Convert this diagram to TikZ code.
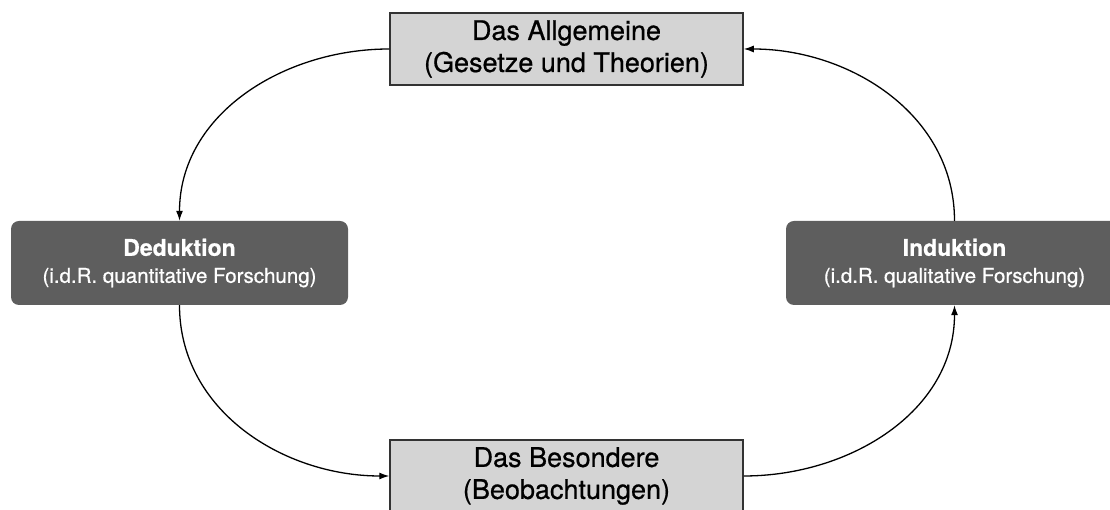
\documentclass[tikz,border=0pt]{standalone}
\usepackage{fontspec}
\setmainfont{TeX Gyre Heros}
\newfontfamily\mittel[FakeBold=0.7]{TeX Gyre Heros}
\usetikzlibrary{arrows.meta}

\begin{document}
\begin{tikzpicture}[x=1pt,y=1pt,>={Latex[length=10pt,width=7pt]},
    ebene/.style={draw=black!80,line width=1.5pt,fill=black!17,minimum width=353pt,minimum height=72pt,
        align=center,font=\mittel\fontsize{27}{32}\selectfont},
    methode/.style={fill=black!63,rounded corners=8pt,minimum width=337pt,minimum height=84pt,
        align=center,text=white,font=\mittel\fontsize{20.5}{27}\selectfont},
    pfeil/.style={->,line width=1.3pt}]
                \clip (0,0) rectangle (1110,510);
                \node[ebene] (allg) at (566.5,461) {Das Allgemeine\\(Gesetze und Theorien)};
                \node[ebene] (bes) at (566.5,34) {Das Besondere\\(Beobachtungen)};
                \node[methode] (ded) at (179.5,247) {{\bfseries\fontsize{23}{27}\selectfont Deduktion}\\(i.d.R. quantitative Forschung)};
                \node[methode] (ind) at (954.5,247) {{\bfseries\fontsize{23}{27}\selectfont Induktion}\\(i.d.R. qualitative Forschung)};
                \draw[pfeil] (allg.west) to[out=180,in=90] (ded.north);
                \draw[pfeil] (ded.south) to[out=-90,in=180] (bes.west);
                \draw[pfeil] (bes.east) to[out=0,in=-90] (ind.south);
                \draw[pfeil] (ind.north) to[out=90,in=0] (allg.east);
            \end{tikzpicture}
\end{document}
